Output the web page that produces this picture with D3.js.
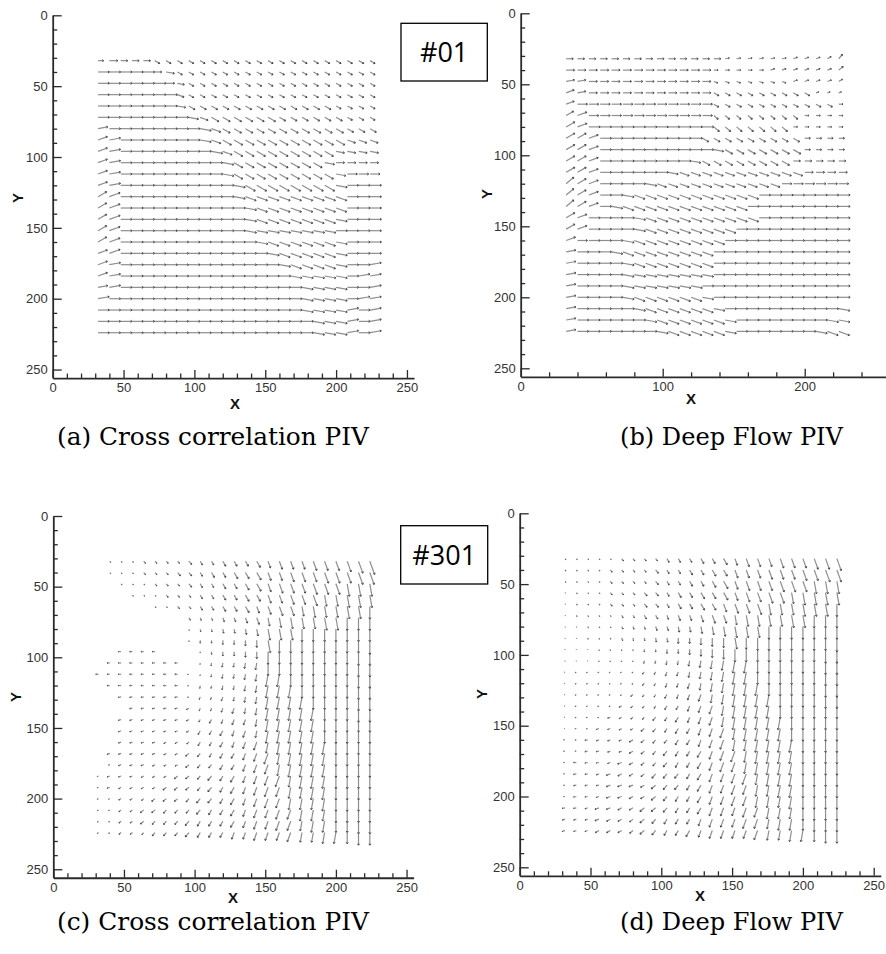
<!DOCTYPE html>
<html>
<head>
<meta charset="utf-8">
<script src="https://cdn.jsdelivr.net/npm/d3@7"></script>
<style>
  body { margin: 0; background: #fff; }
</style>
</head>
<body>
<svg id="chart" width="886" height="954"></svg>
<script>
// grid of the PIV interrogation windows (pixels)
const gridX = [32, 40, 48, 56, 64, 72, 80, 88, 96, 104, 112, 120, 128, 136, 144, 152, 160, 168, 176, 184, 192, 200, 208, 216, 224];
const gridY = [32, 40, 48, 56, 64, 72, 80, 88, 96, 104, 112, 120, 128, 136, 144, 152, 160, 168, 176, 184, 192, 200, 208, 216, 224];

const xMajor = [0, 50, 100, 150, 200, 250];
const xMinor = [10, 20, 30, 40, 60, 70, 80, 90, 110, 120, 130, 140, 160, 170, 180, 190, 210, 220, 230, 240];
const xMajorB = [0, 100, 200];
const xMinorB = [20, 40, 60, 80, 120, 140, 160, 180, 220, 240];
const yMajor = [0, 50, 100, 150, 200, 250];
const yMinor = [10, 20, 30, 40, 60, 70, 80, 90, 110, 120, 130, 140, 160, 170, 180, 190, 210, 220, 230, 240];

const captions = ["(a) Cross correlation PIV", "(b) Deep Flow PIV", "(c) Cross correlation PIV", "(d) Deep Flow PIV"];
const frameLabels = ["#01", "#301"];

// vector direction per grid point, one letter per column:
// F = 0 deg (pointing +x), each letter step = 10 deg clockwise (y axis points down), '.' = no vector
// vector length per grid point in pixels, base-36 digit
const angA = [
  "FFFFF IIIII IIIII IIIII IIIII",
  "FFFFF FGIII IIIII IIIII IIIII",
  "FFFFF FFGII IIIII IIIII IIIII",
  "FFFFF FFHII IIIII IIIII IIIII",
  "FFFFF FFGII IIIII IIIII IIIII",
  "FFFFF FFFGH IIIII IIIII IIIII",
  "EFFFF FFFFG HIIII IIIII IIIII",
  "DEFFF FFFFG HIIII IIIII IIHHH",
  "DEFFF FFFFF GHIII IIIII IGGGG",
  "DEFFF FFFFF FGIII IIIII GFFFF",
  "DEFFF FFFFF FGIII IIIII IGFFF",
  "DEFFF FFFFF FFGII IIIII IGFFF",
  "CDFFF FFFFF FFGHH HHHHH HHFFF",
  "CDFFF FFFFF FFFGH HHHHH HHFFF",
  "CDFFF FFFFF FFFGH HHHHH HGFFF",
  "CDFFF FFFFF FFFGG GGGGG GFFFF",
  "CDFFF FFFFF FFFFG HHHHH HGFFF",
  "DDFFF FFFFF FFFFF GHHHH HGFFF",
  "DEFFF FFFFF FFFFF FGHHH HGFFE",
  "DEFFF FFFFF FFFFF FFGGG GGFEE",
  "EEFFF FFFFF FFFFF FFFGG GGFFE",
  "EFFFF FFFFF FFFFF FFFGG GGFEE",
  "FFFFF FFFFF FFFFF FFFGG GGEFE",
  "FFFFF FFFFF FFFFF FFFFG GGEFE",
  "FFFFF FFFFF FFFFF FFFFG GGEFE"
];
const lenA = [
  "46555 44444 44444 44444 44444",
  "88888 56444 44444 44444 44444",
  "88888 86544 44444 44444 44444",
  "88888 88544 44444 44444 44444",
  "88888 88655 55555 55555 54444",
  "88888 88876 66666 65555 55444",
  "78888 88888 76666 66666 66555",
  "78888 88888 77777 77777 77666",
  "78888 88888 87777 77777 76666",
  "78888 88888 88777 77777 76666",
  "78888 88888 88777 77777 77777",
  "78888 88888 88888 88888 88888",
  "78888 88888 88888 88888 88888",
  "78888 88888 88888 88888 88888",
  "78888 88888 88888 88888 88888",
  "78888 88888 88888 88888 88888",
  "78888 88888 88888 88888 88888",
  "78888 88888 88888 88888 88888",
  "78888 88888 88888 88888 88888",
  "78888 88888 88888 88888 88888",
  "78888 88888 88888 88888 88888",
  "88888 88888 88888 88888 88888",
  "88888 88888 88888 88888 88888",
  "88888 88888 88888 88888 88888",
  "88888 88888 88888 88888 88888"
];

const angB = [
  "FFFFF FFFFF FFFFE EEEEE DDDCA",
  "FFFFF FFFFF FFFFF FFFDD DDDDB",
  "EEFFF FFFFF FFFHH HHHHH DDDDC",
  "DEFFF FFFFF FFFII IIIII IIDDD",
  "DFFFF FFFFF FFFII IIIII IIIIF",
  "CDFFF FFFFF FFFJJ JJJJJ JFFFF",
  "CDFFF FFFFF FFFJJ JJJJJ FFFFF",
  "CCDFF FFFFF FFIII IIIII IFFFF",
  "CCDFF FFFFF FFFGI IIIII IFFFF",
  "CCDFF FFFFF FGIII IIIII FFFFF",
  "CCDFF FFFFG HHHHH HHHHH HFFFF",
  "BCDFF FFGHH HHHHH HHHHF FFFFF",
  "BCDFF GHHHH HHHHH HHFFF FFFFF",
  "BCDFG HHHHH HHHHH HFFFF FFFFF",
  "CDFFF FGHHH HHHHH HHFFF FFFFF",
  "CDFFF FGHHH HHHHH FFFFF FFFFF",
  "DFFFF GHHHH HHHHF FFFFF FFFFF",
  "EFFFG HHHHH HHHFF FFFFF FFFFF",
  "EFFFF GHHHH HHHFF FFFFF FFFFF",
  "EFFFF GGGGG GGGFF FFFFF FFFFF",
  "EFFFF GGGGG GGFFF FFFFF FFFFF",
  "EFFFF GHHHH HHGFF FFFFF FFFFF",
  "EFFFF FGHHH HHHGF FFFFF FFFFG",
  "EFFFF FFGHH HHHHG FFFFF FFFGG",
  "EFFFF FFFGH HHHHG FFFFF FFGHH"
];
const lenB = [
  "55555 55555 55553 33333 33334",
  "66666 66666 66633 33333 33334",
  "66666 66666 66633 33333 33333",
  "66666 66666 66644 44444 44222",
  "67777 77777 77744 44444 44443",
  "67777 77777 77744 44444 43333",
  "77888 88888 88855 55555 33333",
  "77788 88888 88555 55555 54444",
  "77788 88888 88876 66666 64444",
  "77788 88888 87666 66666 55555",
  "77788 88887 77777 77777 76666",
  "77788 88877 77777 77777 77777",
  "77788 88888 88888 88888 88888",
  "77788 88888 88888 88888 88888",
  "77888 88888 88888 88888 88888",
  "77888 88888 88888 88888 88888",
  "77888 88888 88888 88888 88888",
  "78888 88888 88888 88888 88888",
  "78888 88888 88888 88888 88888",
  "78888 88888 88888 88888 88888",
  "78888 88888 88888 88888 88888",
  "78888 88888 88888 88888 88888",
  "78888 88888 88888 88888 88888",
  "78888 88888 88888 88888 88888",
  "78888 88888 88888 88888 88888"
];

const angC = [
  ".KKKK KKKKL LLLLL MMMMM MMMMM",
  ".KKKK KKKKL LLLLL MMMMM MMMMM",
  "..KKK KKKKL LLLLL MMMMM MMNNN",
  "...KK KKKKL LLLLL MMMMM NNNNN",
  "..... KKKKL LLLLM MMMNN NNNNO",
  "..... ...LM MMMMM NNNNN NNOOO",
  "..... ...NN NNNNN NNNOO OOOOO",
  "..... ...OO OOOOO NOOOO OOOOO",
  "..XXX X...O OOOOO OOOOO OOOOO",
  ".XXXX XXX.P PPPPP OOOOO OOOOO",
  "XXXXX XXXWP PPPPP PPOOO OOOOO",
  ".XXXX XXXVP PPPPP PPPOO OOOOO",
  "..WWW WWWVQ QQPPP PPPPO OOOOO",
  "...WW WWWUQ QQQPP PPPPP OOOOO",
  "..VVV VVVUR RQQQP PPPPP OOOOO",
  "..VVV VVVUR RRQQP PPPPP OOOOO",
  "..VVV VUUTR RRQQQ PPPPP POOOO",
  ".VVVV VUUTS RRRQQ QPPPP POOOO",
  ".VVVV UUUTS SRRQQ QPPPP POOOO",
  "VVVVU UUTTS SRRQQ QQPPP POOOO",
  "VVUUU UTTTS SRRQQ QQPPP POOOO",
  "UUUUT TTTSS SRRQQ QQPPP POOOO",
  "UUTTT TSSSS RRRQQ QQQPP POOOO",
  "TTTTT SSSSR RRRQQ QQQPP POOOO",
  "TTTTS SSSSR RRQQQ QQQPP PPOOO"
];
const lenC = [
  ".1112 22233 34445 56667 7789a",
  ".1112 22333 44556 66777 88899",
  "..111 22233 34456 67778 88999",
  "...11 12223 34455 66778 88999",
  "..... 11223 34455 67778 88999",
  "..... ...22 23345 67888 99999",
  "..... ...12 23345 88899 99999",
  "..... ...12 23345 99999 9999a",
  "..222 2...1 23345 99999 999aa",
  ".2222 222.1 23345 99999 999aa",
  "22222 22211 23345 99999 999aa",
  ".2222 22212 23345 99999 999aa",
  "..222 22212 23345 99999 999aa",
  "...22 22222 23445 99999 999aa",
  "..222 22222 33445 99999 99999",
  "..222 22223 34455 99999 99999",
  "..222 22223 34456 89999 99999",
  ".2222 22233 34456 88999 99999",
  ".1222 22233 34456 78999 99999",
  "12222 22333 44556 78899 99999",
  "12222 23333 44556 77889 99999",
  "11222 33334 44556 77888 99999",
  "11223 33334 44556 67788 89999",
  "11223 33344 44556 67778 88899",
  "11222 33344 44556 66777 88899"
];

const angD = [
  "KKKKK KKKKL LLLLL MMMMM MMMMM",
  "KKKKK KKKKL LLLLL MMMMM MMMMM",
  "KKKKK KKKKL LLLLL MMMMM MMNNN",
  "KKKKK KKKKL LLLLL MMMMM NNNNN",
  "KKKKK KKKKL LLLLM MMMNN NNNNO",
  "LLLLL LLLLM MMMMM NNNNN NNOOO",
  "LLLLL LMMMM NNNNN NNNOO OOOOO",
  "MMMMM MNNNN OOOOO NOOOO OOOOO",
  "NNNNO OOOOO OOOOO OOOOO OOOOO",
  "OPPPP PPPPP PPPPP PPOOO OOOOO",
  "TTTTT TSSRQ QPPPP PPOOO OOOOO",
  "TTTTT TSSRQ QQPPP PPPOO OOOOO",
  "UUUUU TTSRR QQQPP PPPPO OOOOO",
  "VVUUU UTSRR RQQQP PPPPO OOOOO",
  "WVVVV UTSSR RQQQP PPPPP OOOOO",
  "WWVVV UUTSR RRQQQ PPPPP OOOOO",
  "XWWVV VUTSS RRQQQ PPPPP POOOO",
  "XXWWV VUTSS RRRQQ QPPPP POOOO",
  "XXWWV VUTSS RRRQQ QPPPP POOOO",
  "XWWVV UUTSS SRRQQ QQPPP POOOO",
  "WWWWV VVUTS SRRQQ QQPPP POOOO",
  "WWWVV VUUTS RRRQQ QQPPP POOOO",
  "WWVVV UUTTS RRRQQ QQQPP POOOO",
  "VVVVU UTTSR RRQQQ QQQPP POOOO",
  "VVVUU UTTSR RRQQQ QQQPP PPOOO"
];
const lenD = [
  "11111 22223 33445 56667 77889",
  "11112 22233 34455 66677 78899",
  "11112 22233 34456 67778 88999",
  "01112 22333 44556 67788 89999",
  "01112 22333 44556 77888 89999",
  "01111 22333 44566 78888 99999",
  "00111 22233 44567 88899 99999",
  "00111 22233 44567 88999 9999a",
  "00011 11223 34567 99999 999aa",
  "00011 11223 34567 99999 999aa",
  "01111 11223 34567 99999 999aa",
  "01111 11223 34567 99999 999aa",
  "01111 12223 34567 99999 999aa",
  "01111 22223 34567 99999 99999",
  "01112 22233 44567 99999 99999",
  "01122 22333 44567 89999 99999",
  "11222 23333 44567 88999 99999",
  "11222 23334 44567 88999 99999",
  "12222 33334 44567 78999 99999",
  "12223 33344 44566 78899 99999",
  "12223 33344 44566 77889 99999",
  "12223 33344 44566 77888 99999",
  "22233 33444 44566 67788 89999",
  "22233 33444 44566 67778 88999",
  "22233 33444 45566 66777 88899"
];

const svg = d3.select('#chart');

const panels = [
  { ang: angA, len: lenA, ox: 52.7, oy: 15.3, s: 1.417, xMax: 255, xMaj: xMajor, xMin: xMinor,
    xLab: [235, 409], yLab: [18, 198], cap: captions[0], capX: 57, capY: 445, capW: 312 },
  { ang: angB, len: lenB, ox: 520.7, oy: 13.3, s: 1.42, xMax: 258, xMaj: xMajorB, xMin: xMinorB,
    xLab: [691, 404], yLab: [487, 194], cap: captions[1], capX: 620, capY: 445, capW: 223 },
  { ang: angC, len: lenC, ox: 53.3, oy: 516, s: 1.413, xMax: 255, xMaj: xMajor, xMin: xMinor,
    xLab: [233, 903], yLab: [16, 697], cap: captions[2], capX: 57, capY: 930, capW: 312 },
  { ang: angD, len: lenD, ox: 519.7, oy: 513.3, s: 1.416, xMax: 255, xMaj: xMajor, xMin: xMinor,
    xLab: [700, 901], yLab: [482, 694], cap: captions[3], capX: 620, capY: 930, capW: 223 }
];

function styleAxis(g) {
  g.select('.domain').attr('stroke', '#2a2a2a').attr('stroke-width', 1.8);
  g.selectAll('.tick line').attr('stroke', '#2a2a2a').attr('stroke-width', 1.3);
  g.selectAll('.tick text').attr('fill', '#333')
    .style('font-family', '"Liberation Sans", Arial, sans-serif').style('font-size', '13px');
}

panels.forEach(p => {
  const x = d3.scaleLinear().domain([0, p.xMax]).range([p.ox, p.ox + p.xMax * p.s]);
  const y = d3.scaleLinear().domain([0, 256]).range([p.oy, p.oy + 256 * p.s]);
  const g = svg.append('g');

  // vectors
  const vecs = [];
  p.ang.forEach((row, j) => {
    const a = row.replace(/ /g, '');
    const l = p.len[j].replace(/ /g, '');
    for (let i = 0; i < a.length && i < gridX.length; i++) {
      if (a[i] === '.') continue;
      vecs.push({
        gx: gridX[i], gy: gridY[j],
        th: (a.charCodeAt(i) - 70) * 10 * Math.PI / 180,
        m: Math.max(parseInt(l[i], 36), 0.5)
      });
    }
  });
  vecs.forEach(d => {
    d.x0 = x(d.gx); d.y0 = y(d.gy);
    d.x1 = x(d.gx + d.m * Math.cos(d.th));
    d.y1 = y(d.gy + d.m * Math.sin(d.th));
  });

  g.append('g').selectAll('line').data(vecs).join('line')
    .attr('x1', d => d.x0).attr('y1', d => d.y0)
    .attr('x2', d => d.x1).attr('y2', d => d.y1)
    .attr('stroke', '#8e8e8e').attr('stroke-width', 1.2);

  g.append('g').selectAll('path').data(vecs).join('path')
    .attr('d', d => {
      const dx = d.x1 - d.x0, dy = d.y1 - d.y0;
      const L = Math.hypot(dx, dy) || 1;
      const h = Math.min(1.8, 0.3 * L);
      const ux = -dx / L, uy = -dy / L, c = Math.cos(0.6), sn = Math.sin(0.6);
      const b1x = d.x1 + h * (ux * c - uy * sn), b1y = d.y1 + h * (ux * sn + uy * c);
      const b2x = d.x1 + h * (ux * c + uy * sn), b2y = d.y1 + h * (-ux * sn + uy * c);
      return `M${b1x},${b1y}L${d.x1},${d.y1}L${b2x},${b2y}`;
    })
    .attr('fill', 'none').attr('stroke', '#4a4a4a').attr('stroke-width', 1);

  // axes (Tecplot style: ticks inside)
  const yPos = y(256);
  g.append('g').attr('transform', `translate(0,${yPos})`)
    .call(d3.axisBottom(x).tickValues(p.xMin).tickSize(-4.5).tickSizeOuter(0).tickFormat(''))
    .call(ax => ax.select('.domain').remove())
    .call(styleAxis);
  g.append('g').attr('transform', `translate(0,${yPos})`)
    .call(d3.axisBottom(x).tickValues(p.xMaj).tickSize(-8).tickSizeOuter(0).tickPadding(5))
    .call(styleAxis);

  g.append('g').attr('transform', `translate(${p.ox},0)`)
    .call(d3.axisLeft(y).tickValues(yMinor).tickSize(-4.5).tickSizeOuter(0).tickFormat(''))
    .call(ax => ax.select('.domain').remove())
    .call(styleAxis);
  g.append('g').attr('transform', `translate(${p.ox},0)`)
    .call(d3.axisLeft(y).tickValues(yMajor).tickSize(-9).tickSizeOuter(0).tickPadding(5))
    .call(styleAxis);

  // axis titles
  g.append('text').attr('x', p.xLab[0]).attr('y', p.xLab[1])
    .attr('text-anchor', 'middle').attr('fill', '#111')
    .style('font-family', '"Liberation Sans", Arial, sans-serif')
    .style('font-size', '15px').style('font-weight', 'bold').text('X');
  g.append('text')
    .attr('transform', `translate(${p.yLab[0]},${p.yLab[1]}) rotate(-90)`)
    .attr('text-anchor', 'middle').attr('dy', '0.35em').attr('fill', '#111')
    .style('font-family', '"Liberation Sans", Arial, sans-serif')
    .style('font-size', '15px').style('font-weight', 'bold').text('Y');

  // caption
  g.append('text').attr('x', p.capX).attr('y', p.capY)
    .attr('textLength', p.capW).attr('lengthAdjust', 'spacingAndGlyphs')
    .attr('fill', '#000')
    .style('font-family', '"DejaVu Serif", serif').style('font-size', '25px')
    .text(p.cap);
});

// frame number boxes
const boxes = [
  { label: frameLabels[0], x: 401, y: 23.3, w: 86.3, h: 57.7 },
  { label: frameLabels[1], x: 400.7, y: 525.7, w: 87, h: 58.3 }
];
const bx = svg.append('g');
bx.selectAll('rect').data(boxes).join('rect')
  .attr('x', d => d.x).attr('y', d => d.y).attr('width', d => d.w).attr('height', d => d.h)
  .attr('fill', '#fff').attr('stroke', '#000').attr('stroke-width', 1.3);
bx.selectAll('text').data(boxes).join('text')
  .attr('x', d => d.x + d.w / 2).attr('y', d => d.y + d.h / 2 + 10)
  .attr('text-anchor', 'middle').attr('fill', '#000')
  .style('font-family', '"Open Sans", "Noto Sans", sans-serif').style('font-size', '27px')
  .text(d => d.label);
</script>
</body>
</html>
